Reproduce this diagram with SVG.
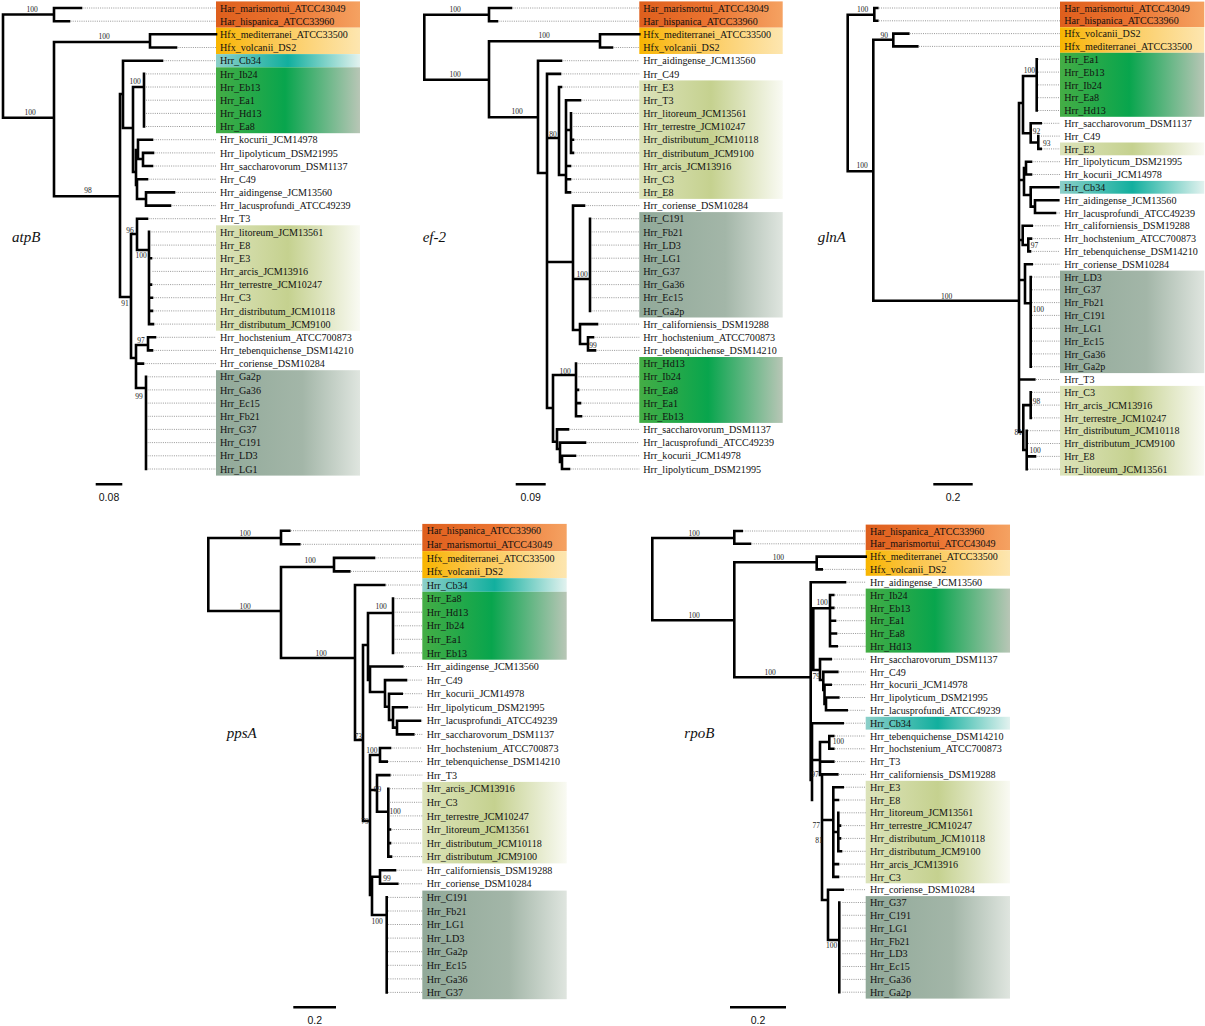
<svg xmlns="http://www.w3.org/2000/svg" width="1205" height="1026" viewBox="0 0 1205 1026">
<style>
.b{fill:none;stroke:#000;stroke-width:2.6;stroke-linecap:square}
.d{fill:none;stroke:#8c8c8c;stroke-width:0.9;stroke-dasharray:1 1.2}
.l{font-family:"Liberation Serif","Times New Roman",serif;font-size:10.1px;fill:#111}
.s{font-family:"Liberation Serif","Times New Roman",serif;font-size:7.5px;fill:#222;text-anchor:middle}
.g{font-family:"Liberation Serif","Times New Roman",serif;font-style:italic;font-size:15px;fill:#111}
.k{font-family:"Liberation Sans",Arial,sans-serif;font-size:10.5px;fill:#111;text-anchor:middle}
.sb{fill:none;stroke:#000;stroke-width:2.6}
</style>
<defs>
<linearGradient id="gO"><stop offset="0" stop-color="#de5f1d"/><stop offset="0.5" stop-color="#eb7431"/><stop offset="1" stop-color="#f5a262"/></linearGradient>
<linearGradient id="gY"><stop offset="0" stop-color="#f8b500"/><stop offset="0.35" stop-color="#fbc54c"/><stop offset="1" stop-color="#fde6b0"/></linearGradient>
<linearGradient id="gT"><stop offset="0" stop-color="#8ccfc9"/><stop offset="0.5" stop-color="#12af9e"/><stop offset="1" stop-color="#e2f2ef"/></linearGradient>
<linearGradient id="gG"><stop offset="0" stop-color="#45ad45"/><stop offset="0.48" stop-color="#08a54d"/><stop offset="1" stop-color="#b8c6b6"/></linearGradient>
<linearGradient id="gL"><stop offset="0" stop-color="#dce3ba"/><stop offset="0.5" stop-color="#c5d18f"/><stop offset="1" stop-color="#f9faf3"/></linearGradient>
<linearGradient id="gS"><stop offset="0" stop-color="#91a999"/><stop offset="0.6" stop-color="#a3b6a8"/><stop offset="1" stop-color="#dfe5df"/></linearGradient>
</defs>
<rect width="1205" height="1026" fill="#fff"/>

<g id="highlights">
<rect x="216" y="1.4" width="144" height="26.3" fill="url(#gO)"/>
<rect x="216" y="27.7" width="144" height="26.3" fill="url(#gY)"/>
<rect x="216" y="54.1" width="144" height="13.2" fill="url(#gT)"/>
<rect x="216" y="67.3" width="144" height="65.9" fill="url(#gG)"/>
<rect x="216" y="225.3" width="144" height="105.4" fill="url(#gL)"/>
<rect x="216" y="370.2" width="144" height="105.4" fill="url(#gS)"/>
<rect x="639.3" y="1.4" width="143.4" height="26.3" fill="url(#gO)"/>
<rect x="639.3" y="27.7" width="143.4" height="26.3" fill="url(#gY)"/>
<rect x="639.3" y="80.4" width="143.4" height="118.5" fill="url(#gL)"/>
<rect x="639.3" y="212.1" width="143.4" height="105.4" fill="url(#gS)"/>
<rect x="639.3" y="357" width="143.4" height="65.9" fill="url(#gG)"/>
<rect x="1060" y="1.6" width="144.3" height="25.6" fill="url(#gO)"/>
<rect x="1060" y="27.2" width="144.3" height="25.6" fill="url(#gY)"/>
<rect x="1060" y="52.8" width="144.3" height="64" fill="url(#gG)"/>
<rect x="1060" y="142.5" width="144.3" height="12.8" fill="url(#gL)"/>
<rect x="1060" y="180.9" width="144.3" height="12.8" fill="url(#gT)"/>
<rect x="1060" y="270.6" width="144.3" height="102.5" fill="url(#gS)"/>
<rect x="1060" y="385.9" width="144.3" height="89.7" fill="url(#gL)"/>
<rect x="422.3" y="523.9" width="144.4" height="27.2" fill="url(#gO)"/>
<rect x="422.3" y="551.1" width="144.4" height="27.2" fill="url(#gY)"/>
<rect x="422.3" y="578.2" width="144.4" height="13.6" fill="url(#gT)"/>
<rect x="422.3" y="591.8" width="144.4" height="67.9" fill="url(#gG)"/>
<rect x="422.3" y="781.9" width="144.4" height="81.5" fill="url(#gL)"/>
<rect x="422.3" y="890.6" width="144.4" height="108.6" fill="url(#gS)"/>
<rect x="865.7" y="524.6" width="144.3" height="25.6" fill="url(#gO)"/>
<rect x="865.7" y="550.2" width="144.3" height="25.6" fill="url(#gY)"/>
<rect x="865.7" y="588.6" width="144.3" height="64" fill="url(#gG)"/>
<rect x="865.7" y="716.8" width="144.3" height="12.8" fill="url(#gT)"/>
<rect x="865.7" y="780.8" width="144.3" height="102.5" fill="url(#gL)"/>
<rect x="865.7" y="896.1" width="144.3" height="102.5" fill="url(#gS)"/>
</g>

<g id="connectors">
<path id="atpB-branches" class="b" d="M3 14.5V117.8M3 14.5H54M54 8V21.2M54 8H81M54 21.2H69M3 117.8H54M54 42V196.3M54 42H150M150 34.3V47.5M150 34.3H216M150 47.5H176M54 196.3H120M120 94V297M120 94H123M123 60.7V128M123 60.7H162M123 128H133M133 87V172M133 87H144M144 73.9V126.5M133 172H136M136 150V185M136 150H138M138 139.7V159M138 139.7H152M138 159H143M143 152.9V166M143 152.9H153M143 166H152M136 185H137M137 179.2V199M137 179.2H147M137 199H146M146 192.4V205.6M146 192.4H174M146 205.6H170M120 297H131M131 234V358M131 234H137M137 218.7V250M137 218.7H147M137 250H149M149 231.9V324.1M149 258.2H151M149 284.6H151M149 297.7H152M149 310.9H152M149 324.1H153M131 358H136M136 345V388M136 345H148M148 337.3V350.4M148 337.3H155M148 350.4H152M136 363.6H143M136 388H146M146 376.8V469"/>
<path id="ef2-branches" class="b" d="M424.3 14.7V79.7M424.3 14.7H489M489 8V21.2M489 8H511M489 21.2H497M424.3 79.7H489M489 41.3V117.3M489 41.3H600M600 34.3V47.5M600 34.3H639.3M600 47.5H612M489 117.3H538M538 60.7V173M538 60.7H561M538 173H547M547 73.9V408M547 73.9H560M547 138H559M559 87V175M559 87H561M559 175H566M566 100.2V192.4M566 100.2H580M566 130H571M571 113.4V152.9M571 139.7H573M571 152.9H573M566 166H570M566 179.2H570M566 192.4H570M547 262H573M573 205.6V330M573 205.6H584M573 279H590M590 218.7V310.9M573 330H580M580 324.1V344M580 324.1H597M580 344H588M588 337.3V350.4M588 337.3H593M588 350.4H595M547 408H553M553 375V441.7M553 375H576M576 363.6V416.3M576 389.9H578M576 403.1H580M576 416.3H581M553 441.7H557M557 429.4V449M557 429.4H568M557 449H560M560 442.6V462M560 442.6H585M560 462H562M562 455.8V469M562 455.8H575M562 469H569"/>
<path id="glnA-branches" class="b" d="M847.7 14.7V171.3M847.7 14.7H874.3M874.3 8V20.8M874.3 8H877.3M874.3 20.8H877.3M847.7 171.3H873.3M873.3 39.7V300.7M873.3 39.7H893.3M893.3 33.6V46.4M893.3 33.6H908.3M893.3 46.4H917.3M873.3 300.7H1019M1019 103V432M1019 103H1023M1023 76V133.3M1023 76H1036.7M1036.7 59.2V110.5M1023 133.3H1030.7M1030.7 123.3V142.5M1030.7 123.3H1040.7M1030.7 142.5H1038.3M1038.3 136.1V148.9M1038.3 148.9H1040.7M1019 180H1024M1024 168V195M1024 168H1026M1026 161.7V174.5M1026 161.7H1031M1026 174.5H1031M1024 195H1030.7M1030.7 187.3V206.6M1030.7 187.3H1058.3M1030.7 206.6H1035M1035 200.2V213M1035 200.2H1058.3M1035 213H1055M1019 240H1022.7M1022.7 225.8V245M1022.7 225.8H1031.7M1022.7 245H1028.3M1028.3 238.6V251.4M1028.3 238.6H1031M1028.3 251.4H1030M1019 280H1025M1025 264.2V303.3M1025 264.2H1031.7M1025 303.3H1030.7M1030.7 277V366.7M1019 379.5H1034.3M1019 432H1023.3M1023.3 405.1V450M1023.3 405.1H1030.7M1030.7 392.3V417.9M1023.3 450H1026.7M1026.7 430.7V469.2M1026.7 456.4H1035"/>
<path id="ppsA-branches" class="b" d="M208.3 538V611M208.3 538H281M281 530.7V544.3M281 530.7H289.3M281 544.3H299.3M208.3 611H281M281 567V658M281 567H334M334 557.9V571.4M334 557.9H374M334 571.4H349.3M281 658H355M355 585V740M355 585H384.3M355 740H363M363 645V821M363 645H368M368 613V680M368 613H393M393 598.6V652.9M368 680H370M370 666.5V692M370 666.5H402.3M370 692H385M385 680.1V706.7M385 680.1H406M385 706.7H389M389 693.7V720M389 693.7H401.7M389 720H393M393 707.2V727.6M393 707.2H406.7M393 727.6H397M397 720.8V734.4M397 720.8H420M397 734.4H413.3M363 821H370M370 755V895M370 755H380M380 748V761.6M380 748H390M380 761.6H386.7M370 790H377M377 775.1V811.7M377 775.1H389.3M377 811.7H388.3M388.3 788.7V856.6M388.3 829.5H390M388.3 843.1H390M388.3 856.6H391M370 895H372M372 876.7V915M372 876.7H380M380 870.2V883.8M380 870.2H395M380 883.8H397.3M372 915H386.7M386.7 897.4V992.4"/>
<path id="rpoB-branches" class="b" d="M652.3 538V620.3M652.3 538H734.3M734.3 531V543.8M734.3 531H741.7M734.3 543.8H750M652.3 620.3H734.3M734.3 562.3V677.3M734.3 562.3H816.7M816.7 556.6V569.4M816.7 556.6H865.7M816.7 569.4H821.7M734.3 677.3H810.7M810.7 582.2V780M810.7 582.2H845M810.7 640H813.3M813.3 608.3V670M813.3 608.3H830M830 595V646.3M830 595H833.3M830 607.9H833.3M830 620.7H835M830 633.5H836M830 646.3H836.7M813.3 670H820M820 659.1V680M820 659.1H830.7M820 680H823.3M823.3 671.9V690M823.3 671.9H837.3M823.3 690H824.5M824.5 684.7V704M824.5 684.7H830.7M824.5 704H826M826 697.5V710.3M826 697.5H838.3M826 710.3H846.7M810.7 780H812M812 723.2V800M812 723.2H842.7M812 760H820M820 742V775M820 742H829.3M829.3 736V748.8M829.3 736H833.3M829.3 748.8H833.3M820 761.6H833.3M820 775H822M822 774.4V900M822 774.4H837.3M822 820H833.3M833.3 787.2V876.9M833.3 787.2H842.7M833.3 800H838M833.3 832H838.3M838.3 812.8V851.3M838.3 825.6H840M838.3 838.4H840M838.3 851.3H841M833.3 864.1H838M833.3 876.9H838M822 900H828M828 889.7V940M828 889.7H842.7M828 940H839.3M839.3 902.5V992.2"/>
</g>

<g id="support-values">
<text class="s" x="32" y="11.7">100</text><text class="s" x="30" y="115">100</text><text class="s" x="104" y="39">100</text><text class="s" x="88" y="193.3">98</text><text class="s" x="135" y="84">100</text><text class="s" x="130" y="232.5">96</text><text class="s" x="141" y="258">100</text><text class="s" x="125" y="306">91</text><text class="s" x="141" y="342.7">97</text><text class="s" x="139" y="398.5">99</text>
<text class="s" x="455" y="11.7">100</text><text class="s" x="455" y="76.7">100</text><text class="s" x="544" y="38.3">100</text><text class="s" x="517" y="114.3">100</text><text class="s" x="553" y="136.5">80</text><text class="s" x="582" y="276.5">100</text><text class="s" x="593" y="347.5">99</text><text class="s" x="565" y="374">100</text>
<text class="s" x="862.7" y="12">100</text><text class="s" x="862" y="168">100</text><text class="s" x="884.3" y="37.5">90</text><text class="s" x="946.7" y="298.5">100</text><text class="s" x="1029.3" y="72.5">100</text><text class="s" x="1036.5" y="134.3">92</text><text class="s" x="1046.7" y="145.7">93</text><text class="s" x="1034.5" y="247.5">97</text><text class="s" x="1038.3" y="312.3">100</text><text class="s" x="1036.5" y="404.2">98</text><text class="s" x="1018.3" y="435">81</text><text class="s" x="1035" y="453.3">100</text>
<text class="s" x="245" y="535.5">100</text><text class="s" x="245" y="608.5">100</text><text class="s" x="310" y="562.5">100</text><text class="s" x="321" y="656">100</text><text class="s" x="381" y="609">100</text><text class="s" x="358.3" y="739.3">73</text><text class="s" x="371.8" y="753">100</text><text class="s" x="377.5" y="791.5">99</text><text class="s" x="395.2" y="814">100</text><text class="s" x="365" y="824.3">79</text><text class="s" x="387" y="880.7">99</text><text class="s" x="377" y="924">100</text>
<text class="s" x="694" y="535.5">100</text><text class="s" x="694" y="618">100</text><text class="s" x="778.3" y="560">100</text><text class="s" x="770" y="675">100</text><text class="s" x="822" y="605">100</text><text class="s" x="816.3" y="679.2">79</text><text class="s" x="838.3" y="744">100</text><text class="s" x="815" y="777.3">97</text><text class="s" x="816.3" y="827.5">77</text><text class="s" x="819" y="842.5">81</text><text class="s" x="831.7" y="947.5">100</text>
</g>

<g id="gene-labels">
<text class="g" x="12" y="241.5">atpB</text>
<text class="g" x="422.7" y="241.5">ef-2</text>
<text class="g" x="817.7" y="241.5">glnA</text>
<text class="g" x="226.7" y="738">ppsA</text>
<text class="g" x="684.3" y="738">rpoB</text>
</g>

<g id="scale-bars">
<path class="sb" d="M95.7 484.3H122.3M515.7 484.3H545.7M933.3 484.3H972.7M293.3 1007.3H336M730 1007.3H786"/>
<text class="k" x="109" y="500.5">0.08</text>
<text class="k" x="530.7" y="500.5">0.09</text>
<text class="k" x="953" y="500.5">0.2</text>
<text class="k" x="314.7" y="1023.5">0.2</text>
<text class="k" x="758" y="1023.5">0.2</text>
</g>

<g id="atpB-leaves">
<g id="atpB-Har_marismortui"><path class="d" d="M82.5 8H216"/><text class="l" x="220" y="11.6">Har_marismortui_ATCC43049</text></g>
<g id="atpB-Har_hispanica"><path class="d" d="M70.5 21.2H216"/><text class="l" x="220" y="24.8">Har_hispanica_ATCC33960</text></g>
<g id="atpB-Hfx_mediterranei"><text class="l" x="220" y="37.9">Hfx_mediterranei_ATCC33500</text></g>
<g id="atpB-Hfx_volcanii"><path class="d" d="M177.5 47.5H216"/><text class="l" x="220" y="51.1">Hfx_volcanii_DS2</text></g>
<g id="atpB-Cb34"><path class="d" d="M163.5 60.7H216"/><text class="l" x="220" y="64.3">Hrr_Cb34</text></g>
<g id="atpB-Ib24"><path class="d" d="M146 73.9H216"/><text class="l" x="220" y="77.5">Hrr_Ib24</text></g>
<g id="atpB-Eb13"><path class="d" d="M146 87H216"/><text class="l" x="220" y="90.6">Hrr_Eb13</text></g>
<g id="atpB-Ea1"><path class="d" d="M146 100.2H216"/><text class="l" x="220" y="103.8">Hrr_Ea1</text></g>
<g id="atpB-Hd13"><path class="d" d="M146 113.4H216"/><text class="l" x="220" y="117">Hrr_Hd13</text></g>
<g id="atpB-Ea8"><path class="d" d="M146 126.5H216"/><text class="l" x="220" y="130.1">Hrr_Ea8</text></g>
<g id="atpB-kocurii"><path class="d" d="M153.5 139.7H216"/><text class="l" x="220" y="143.3">Hrr_kocurii_JCM14978</text></g>
<g id="atpB-lipolyticum"><path class="d" d="M154.5 152.9H216"/><text class="l" x="220" y="156.5">Hrr_lipolyticum_DSM21995</text></g>
<g id="atpB-saccharovorum"><path class="d" d="M153.5 166H216"/><text class="l" x="220" y="169.6">Hrr_saccharovorum_DSM1137</text></g>
<g id="atpB-C49"><path class="d" d="M148.5 179.2H216"/><text class="l" x="220" y="182.8">Hrr_C49</text></g>
<g id="atpB-aidingense"><path class="d" d="M175.5 192.4H216"/><text class="l" x="220" y="196">Hrr_aidingense_JCM13560</text></g>
<g id="atpB-lacusprofundi"><path class="d" d="M171.5 205.6H216"/><text class="l" x="220" y="209.2">Hrr_lacusprofundi_ATCC49239</text></g>
<g id="atpB-T3"><path class="d" d="M148.5 218.7H216"/><text class="l" x="220" y="222.3">Hrr_T3</text></g>
<g id="atpB-litoreum"><path class="d" d="M151.5 231.9H216"/><text class="l" x="220" y="235.5">Hrr_litoreum_JCM13561</text></g>
<g id="atpB-E8"><path class="d" d="M151.5 245.1H216"/><text class="l" x="220" y="248.7">Hrr_E8</text></g>
<g id="atpB-E3"><path class="d" d="M152.5 258.2H216"/><text class="l" x="220" y="261.8">Hrr_E3</text></g>
<g id="atpB-arcis"><path class="d" d="M152.5 271.4H216"/><text class="l" x="220" y="275">Hrr_arcis_JCM13916</text></g>
<g id="atpB-terrestre"><path class="d" d="M152.5 284.6H216"/><text class="l" x="220" y="288.2">Hrr_terrestre_JCM10247</text></g>
<g id="atpB-C3"><path class="d" d="M153.5 297.7H216"/><text class="l" x="220" y="301.3">Hrr_C3</text></g>
<g id="atpB-distributum10118"><path class="d" d="M153.5 310.9H216"/><text class="l" x="220" y="314.5">Hrr_distributum_JCM10118</text></g>
<g id="atpB-distributum9100"><path class="d" d="M154.5 324.1H216"/><text class="l" x="220" y="327.7">Hrr_distributum_JCM9100</text></g>
<g id="atpB-hochstenium"><path class="d" d="M156.5 337.3H216"/><text class="l" x="220" y="340.9">Hrr_hochstenium_ATCC700873</text></g>
<g id="atpB-tebenquichense"><path class="d" d="M153.5 350.4H216"/><text class="l" x="220" y="354">Hrr_tebenquichense_DSM14210</text></g>
<g id="atpB-coriense"><path class="d" d="M144.5 363.6H216"/><text class="l" x="220" y="367.2">Hrr_coriense_DSM10284</text></g>
<g id="atpB-Ga2p"><path class="d" d="M147.5 376.8H216"/><text class="l" x="220" y="380.4">Hrr_Ga2p</text></g>
<g id="atpB-Ga36"><path class="d" d="M147.5 389.9H216"/><text class="l" x="220" y="393.5">Hrr_Ga36</text></g>
<g id="atpB-Ec15"><path class="d" d="M147.5 403.1H216"/><text class="l" x="220" y="406.7">Hrr_Ec15</text></g>
<g id="atpB-Fb21"><path class="d" d="M147.5 416.3H216"/><text class="l" x="220" y="419.9">Hrr_Fb21</text></g>
<g id="atpB-G37"><path class="d" d="M147.5 429.4H216"/><text class="l" x="220" y="433">Hrr_G37</text></g>
<g id="atpB-C191"><path class="d" d="M147.5 442.6H216"/><text class="l" x="220" y="446.2">Hrr_C191</text></g>
<g id="atpB-LD3"><path class="d" d="M147.5 455.8H216"/><text class="l" x="220" y="459.4">Hrr_LD3</text></g>
<g id="atpB-LG1"><path class="d" d="M147.5 469H216"/><text class="l" x="220" y="472.6">Hrr_LG1</text></g>
</g>

<g id="ef2-leaves">
<g id="ef2-Har_marismortui"><path class="d" d="M512.5 8H639.3"/><text class="l" x="643.3" y="11.6">Har_marismortui_ATCC43049</text></g>
<g id="ef2-Har_hispanica"><path class="d" d="M498.5 21.2H639.3"/><text class="l" x="643.3" y="24.8">Har_hispanica_ATCC33960</text></g>
<g id="ef2-Hfx_mediterranei"><text class="l" x="643.3" y="37.9">Hfx_mediterranei_ATCC33500</text></g>
<g id="ef2-Hfx_volcanii"><path class="d" d="M613.5 47.5H639.3"/><text class="l" x="643.3" y="51.1">Hfx_volcanii_DS2</text></g>
<g id="ef2-aidingense"><path class="d" d="M562.5 60.7H639.3"/><text class="l" x="643.3" y="64.3">Hrr_aidingense_JCM13560</text></g>
<g id="ef2-C49"><path class="d" d="M561.5 73.9H639.3"/><text class="l" x="643.3" y="77.5">Hrr_C49</text></g>
<g id="ef2-E3"><path class="d" d="M562.5 87H639.3"/><text class="l" x="643.3" y="90.6">Hrr_E3</text></g>
<g id="ef2-T3"><path class="d" d="M581.5 100.2H639.3"/><text class="l" x="643.3" y="103.8">Hrr_T3</text></g>
<g id="ef2-litoreum"><path class="d" d="M573.5 113.4H639.3"/><text class="l" x="643.3" y="117">Hrr_litoreum_JCM13561</text></g>
<g id="ef2-terrestre"><path class="d" d="M573.5 126.5H639.3"/><text class="l" x="643.3" y="130.1">Hrr_terrestre_JCM10247</text></g>
<g id="ef2-distributum10118"><path class="d" d="M574.5 139.7H639.3"/><text class="l" x="643.3" y="143.3">Hrr_distributum_JCM10118</text></g>
<g id="ef2-distributum9100"><path class="d" d="M574.5 152.9H639.3"/><text class="l" x="643.3" y="156.5">Hrr_distributum_JCM9100</text></g>
<g id="ef2-arcis"><path class="d" d="M571.5 166H639.3"/><text class="l" x="643.3" y="169.6">Hrr_arcis_JCM13916</text></g>
<g id="ef2-C3"><path class="d" d="M571.5 179.2H639.3"/><text class="l" x="643.3" y="182.8">Hrr_C3</text></g>
<g id="ef2-E8"><path class="d" d="M571.5 192.4H639.3"/><text class="l" x="643.3" y="196">Hrr_E8</text></g>
<g id="ef2-coriense"><path class="d" d="M585.5 205.6H639.3"/><text class="l" x="643.3" y="209.2">Hrr_coriense_DSM10284</text></g>
<g id="ef2-C191"><path class="d" d="M591.5 218.7H639.3"/><text class="l" x="643.3" y="222.3">Hrr_C191</text></g>
<g id="ef2-Fb21"><path class="d" d="M591.5 231.9H639.3"/><text class="l" x="643.3" y="235.5">Hrr_Fb21</text></g>
<g id="ef2-LD3"><path class="d" d="M591.5 245.1H639.3"/><text class="l" x="643.3" y="248.7">Hrr_LD3</text></g>
<g id="ef2-LG1"><path class="d" d="M591.5 258.2H639.3"/><text class="l" x="643.3" y="261.8">Hrr_LG1</text></g>
<g id="ef2-G37"><path class="d" d="M591.5 271.4H639.3"/><text class="l" x="643.3" y="275">Hrr_G37</text></g>
<g id="ef2-Ga36"><path class="d" d="M591.5 284.6H639.3"/><text class="l" x="643.3" y="288.2">Hrr_Ga36</text></g>
<g id="ef2-Ec15"><path class="d" d="M591.5 297.7H639.3"/><text class="l" x="643.3" y="301.3">Hrr_Ec15</text></g>
<g id="ef2-Ga2p"><path class="d" d="M591.5 310.9H639.3"/><text class="l" x="643.3" y="314.5">Hrr_Ga2p</text></g>
<g id="ef2-californiensis"><path class="d" d="M598.5 324.1H639.3"/><text class="l" x="643.3" y="327.7">Hrr_californiensis_DSM19288</text></g>
<g id="ef2-hochstenium"><path class="d" d="M594.5 337.3H639.3"/><text class="l" x="643.3" y="340.9">Hrr_hochstenium_ATCC700873</text></g>
<g id="ef2-tebenquichense"><path class="d" d="M596.5 350.4H639.3"/><text class="l" x="643.3" y="354">Hrr_tebenquichense_DSM14210</text></g>
<g id="ef2-Hd13"><path class="d" d="M577.5 363.6H639.3"/><text class="l" x="643.3" y="367.2">Hrr_Hd13</text></g>
<g id="ef2-Ib24"><path class="d" d="M578.5 376.8H639.3"/><text class="l" x="643.3" y="380.4">Hrr_Ib24</text></g>
<g id="ef2-Ea8"><path class="d" d="M579.5 389.9H639.3"/><text class="l" x="643.3" y="393.5">Hrr_Ea8</text></g>
<g id="ef2-Ea1"><path class="d" d="M581.5 403.1H639.3"/><text class="l" x="643.3" y="406.7">Hrr_Ea1</text></g>
<g id="ef2-Eb13"><path class="d" d="M582.5 416.3H639.3"/><text class="l" x="643.3" y="419.9">Hrr_Eb13</text></g>
<g id="ef2-saccharovorum"><path class="d" d="M569.5 429.4H639.3"/><text class="l" x="643.3" y="433">Hrr_saccharovorum_DSM1137</text></g>
<g id="ef2-lacusprofundi"><path class="d" d="M586.5 442.6H639.3"/><text class="l" x="643.3" y="446.2">Hrr_lacusprofundi_ATCC49239</text></g>
<g id="ef2-kocurii"><path class="d" d="M576.5 455.8H639.3"/><text class="l" x="643.3" y="459.4">Hrr_kocurii_JCM14978</text></g>
<g id="ef2-lipolyticum"><path class="d" d="M570.5 469H639.3"/><text class="l" x="643.3" y="472.6">Hrr_lipolyticum_DSM21995</text></g>
</g>

<g id="glnA-leaves">
<g id="glnA-Har_marismortui"><path class="d" d="M878.8 8H1060"/><text class="l" x="1064.3" y="11.6">Har_marismortui_ATCC43049</text></g>
<g id="glnA-Har_hispanica"><path class="d" d="M878.8 20.8H1060"/><text class="l" x="1064.3" y="24.4">Har_hispanica_ATCC33960</text></g>
<g id="glnA-Hfx_volcanii"><path class="d" d="M909.8 33.6H1060"/><text class="l" x="1064.3" y="37.2">Hfx_volcanii_DS2</text></g>
<g id="glnA-Hfx_mediterranei"><path class="d" d="M918.8 46.4H1060"/><text class="l" x="1064.3" y="50">Hfx_mediterranei_ATCC33500</text></g>
<g id="glnA-Ea1"><path class="d" d="M1038.2 59.2H1060"/><text class="l" x="1064.3" y="62.8">Hrr_Ea1</text></g>
<g id="glnA-Eb13"><path class="d" d="M1038.2 72.1H1060"/><text class="l" x="1064.3" y="75.7">Hrr_Eb13</text></g>
<g id="glnA-Ib24"><path class="d" d="M1038.2 84.9H1060"/><text class="l" x="1064.3" y="88.5">Hrr_Ib24</text></g>
<g id="glnA-Ea8"><path class="d" d="M1038.2 97.7H1060"/><text class="l" x="1064.3" y="101.3">Hrr_Ea8</text></g>
<g id="glnA-Hd13"><path class="d" d="M1038.2 110.5H1060"/><text class="l" x="1064.3" y="114.1">Hrr_Hd13</text></g>
<g id="glnA-saccharovorum"><path class="d" d="M1042.2 123.3H1060"/><text class="l" x="1064.3" y="126.9">Hrr_saccharovorum_DSM1137</text></g>
<g id="glnA-C49"><path class="d" d="M1041 136.1H1060"/><text class="l" x="1064.3" y="139.7">Hrr_C49</text></g>
<g id="glnA-E3"><path class="d" d="M1042.2 148.9H1060"/><text class="l" x="1064.3" y="152.5">Hrr_E3</text></g>
<g id="glnA-lipolyticum"><path class="d" d="M1032.5 161.7H1060"/><text class="l" x="1064.3" y="165.3">Hrr_lipolyticum_DSM21995</text></g>
<g id="glnA-kocurii"><path class="d" d="M1032.5 174.5H1060"/><text class="l" x="1064.3" y="178.1">Hrr_kocurii_JCM14978</text></g>
<g id="glnA-Cb34"><text class="l" x="1064.3" y="190.9">Hrr_Cb34</text></g>
<g id="glnA-aidingense"><text class="l" x="1064.3" y="203.8">Hrr_aidingense_JCM13560</text></g>
<g id="glnA-lacusprofundi"><path class="d" d="M1056.5 213H1060"/><text class="l" x="1064.3" y="216.6">Hrr_lacusprofundi_ATCC49239</text></g>
<g id="glnA-californiensis"><path class="d" d="M1033.2 225.8H1060"/><text class="l" x="1064.3" y="229.4">Hrr_californiensis_DSM19288</text></g>
<g id="glnA-hochstenium"><path class="d" d="M1032.5 238.6H1060"/><text class="l" x="1064.3" y="242.2">Hrr_hochstenium_ATCC700873</text></g>
<g id="glnA-tebenquichense"><path class="d" d="M1031.5 251.4H1060"/><text class="l" x="1064.3" y="255">Hrr_tebenquichense_DSM14210</text></g>
<g id="glnA-coriense"><path class="d" d="M1033.2 264.2H1060"/><text class="l" x="1064.3" y="267.8">Hrr_coriense_DSM10284</text></g>
<g id="glnA-LD3"><path class="d" d="M1032 277H1060"/><text class="l" x="1064.3" y="280.6">Hrr_LD3</text></g>
<g id="glnA-G37"><path class="d" d="M1032 289.8H1060"/><text class="l" x="1064.3" y="293.4">Hrr_G37</text></g>
<g id="glnA-Fb21"><path class="d" d="M1032 302.6H1060"/><text class="l" x="1064.3" y="306.2">Hrr_Fb21</text></g>
<g id="glnA-C191"><path class="d" d="M1032 315.4H1060"/><text class="l" x="1064.3" y="319">Hrr_C191</text></g>
<g id="glnA-LG1"><path class="d" d="M1032 328.3H1060"/><text class="l" x="1064.3" y="331.9">Hrr_LG1</text></g>
<g id="glnA-Ec15"><path class="d" d="M1032 341.1H1060"/><text class="l" x="1064.3" y="344.7">Hrr_Ec15</text></g>
<g id="glnA-Ga36"><path class="d" d="M1032 353.9H1060"/><text class="l" x="1064.3" y="357.5">Hrr_Ga36</text></g>
<g id="glnA-Ga2p"><path class="d" d="M1032 366.7H1060"/><text class="l" x="1064.3" y="370.3">Hrr_Ga2p</text></g>
<g id="glnA-T3"><path class="d" d="M1035.8 379.5H1060"/><text class="l" x="1064.3" y="383.1">Hrr_T3</text></g>
<g id="glnA-C3"><path class="d" d="M1032 392.3H1060"/><text class="l" x="1064.3" y="395.9">Hrr_C3</text></g>
<g id="glnA-arcis"><path class="d" d="M1032 405.1H1060"/><text class="l" x="1064.3" y="408.7">Hrr_arcis_JCM13916</text></g>
<g id="glnA-terrestre"><path class="d" d="M1032 417.9H1060"/><text class="l" x="1064.3" y="421.5">Hrr_terrestre_JCM10247</text></g>
<g id="glnA-distributum10118"><path class="d" d="M1028 430.7H1060"/><text class="l" x="1064.3" y="434.3">Hrr_distributum_JCM10118</text></g>
<g id="glnA-distributum9100"><path class="d" d="M1028 443.5H1060"/><text class="l" x="1064.3" y="447.1">Hrr_distributum_JCM9100</text></g>
<g id="glnA-E8"><path class="d" d="M1036.5 456.4H1060"/><text class="l" x="1064.3" y="460">Hrr_E8</text></g>
<g id="glnA-litoreum"><path class="d" d="M1028 469.2H1060"/><text class="l" x="1064.3" y="472.8">Hrr_litoreum_JCM13561</text></g>
</g>

<g id="ppsA-leaves">
<g id="ppsA-Har_hispanica"><path class="d" d="M290.8 530.7H422.3"/><text class="l" x="426.7" y="534.3">Har_hispanica_ATCC33960</text></g>
<g id="ppsA-Har_marismortui"><path class="d" d="M300.8 544.3H422.3"/><text class="l" x="426.7" y="547.9">Har_marismortui_ATCC43049</text></g>
<g id="ppsA-Hfx_mediterranei"><path class="d" d="M375.5 557.9H422.3"/><text class="l" x="426.7" y="561.5">Hfx_mediterranei_ATCC33500</text></g>
<g id="ppsA-Hfx_volcanii"><path class="d" d="M350.8 571.4H422.3"/><text class="l" x="426.7" y="575">Hfx_volcanii_DS2</text></g>
<g id="ppsA-Cb34"><path class="d" d="M385.8 585H422.3"/><text class="l" x="426.7" y="588.6">Hrr_Cb34</text></g>
<g id="ppsA-Ea8"><path class="d" d="M394.5 598.6H422.3"/><text class="l" x="426.7" y="602.2">Hrr_Ea8</text></g>
<g id="ppsA-Hd13"><path class="d" d="M394.5 612.2H422.3"/><text class="l" x="426.7" y="615.8">Hrr_Hd13</text></g>
<g id="ppsA-Ib24"><path class="d" d="M394.5 625.8H422.3"/><text class="l" x="426.7" y="629.4">Hrr_Ib24</text></g>
<g id="ppsA-Ea1"><path class="d" d="M394.5 639.3H422.3"/><text class="l" x="426.7" y="642.9">Hrr_Ea1</text></g>
<g id="ppsA-Eb13"><path class="d" d="M394.5 652.9H422.3"/><text class="l" x="426.7" y="656.5">Hrr_Eb13</text></g>
<g id="ppsA-aidingense"><path class="d" d="M403.8 666.5H422.3"/><text class="l" x="426.7" y="670.1">Hrr_aidingense_JCM13560</text></g>
<g id="ppsA-C49"><path class="d" d="M407.5 680.1H422.3"/><text class="l" x="426.7" y="683.7">Hrr_C49</text></g>
<g id="ppsA-kocurii"><path class="d" d="M403.2 693.7H422.3"/><text class="l" x="426.7" y="697.3">Hrr_kocurii_JCM14978</text></g>
<g id="ppsA-lipolyticum"><path class="d" d="M408.2 707.2H422.3"/><text class="l" x="426.7" y="710.8">Hrr_lipolyticum_DSM21995</text></g>
<g id="ppsA-lacusprofundi"><path class="d" d="M421.5 720.8H422.3"/><text class="l" x="426.7" y="724.4">Hrr_lacusprofundi_ATCC49239</text></g>
<g id="ppsA-saccharovorum"><path class="d" d="M414.8 734.4H422.3"/><text class="l" x="426.7" y="738">Hrr_saccharovorum_DSM1137</text></g>
<g id="ppsA-hochstenium"><path class="d" d="M391.5 748H422.3"/><text class="l" x="426.7" y="751.6">Hrr_hochstenium_ATCC700873</text></g>
<g id="ppsA-tebenquichense"><path class="d" d="M388.2 761.6H422.3"/><text class="l" x="426.7" y="765.2">Hrr_tebenquichense_DSM14210</text></g>
<g id="ppsA-T3"><path class="d" d="M390.8 775.1H422.3"/><text class="l" x="426.7" y="778.7">Hrr_T3</text></g>
<g id="ppsA-arcis"><path class="d" d="M389.8 788.7H422.3"/><text class="l" x="426.7" y="792.3">Hrr_arcis_JCM13916</text></g>
<g id="ppsA-C3"><path class="d" d="M389.8 802.3H422.3"/><text class="l" x="426.7" y="805.9">Hrr_C3</text></g>
<g id="ppsA-terrestre"><path class="d" d="M390.5 815.9H422.3"/><text class="l" x="426.7" y="819.5">Hrr_terrestre_JCM10247</text></g>
<g id="ppsA-litoreum"><path class="d" d="M391.5 829.5H422.3"/><text class="l" x="426.7" y="833.1">Hrr_litoreum_JCM13561</text></g>
<g id="ppsA-distributum10118"><path class="d" d="M391.5 843.1H422.3"/><text class="l" x="426.7" y="846.7">Hrr_distributum_JCM10118</text></g>
<g id="ppsA-distributum9100"><path class="d" d="M392.5 856.6H422.3"/><text class="l" x="426.7" y="860.2">Hrr_distributum_JCM9100</text></g>
<g id="ppsA-californiensis"><path class="d" d="M396.5 870.2H422.3"/><text class="l" x="426.7" y="873.8">Hrr_californiensis_DSM19288</text></g>
<g id="ppsA-coriense"><path class="d" d="M398.8 883.8H422.3"/><text class="l" x="426.7" y="887.4">Hrr_coriense_DSM10284</text></g>
<g id="ppsA-C191"><path class="d" d="M388.2 897.4H422.3"/><text class="l" x="426.7" y="901">Hrr_C191</text></g>
<g id="ppsA-Fb21"><path class="d" d="M388.2 911H422.3"/><text class="l" x="426.7" y="914.6">Hrr_Fb21</text></g>
<g id="ppsA-LG1"><path class="d" d="M388.2 924.5H422.3"/><text class="l" x="426.7" y="928.1">Hrr_LG1</text></g>
<g id="ppsA-LD3"><path class="d" d="M388.2 938.1H422.3"/><text class="l" x="426.7" y="941.7">Hrr_LD3</text></g>
<g id="ppsA-Ga2p"><path class="d" d="M388.2 951.7H422.3"/><text class="l" x="426.7" y="955.3">Hrr_Ga2p</text></g>
<g id="ppsA-Ec15"><path class="d" d="M388.2 965.3H422.3"/><text class="l" x="426.7" y="968.9">Hrr_Ec15</text></g>
<g id="ppsA-Ga36"><path class="d" d="M388.2 978.9H422.3"/><text class="l" x="426.7" y="982.5">Hrr_Ga36</text></g>
<g id="ppsA-G37"><path class="d" d="M388.2 992.4H422.3"/><text class="l" x="426.7" y="996">Hrr_G37</text></g>
</g>

<g id="rpoB-leaves">
<g id="rpoB-Har_hispanica"><path class="d" d="M743.2 531H865.7"/><text class="l" x="870" y="534.6">Har_hispanica_ATCC33960</text></g>
<g id="rpoB-Har_marismortui"><path class="d" d="M751.5 543.8H865.7"/><text class="l" x="870" y="547.4">Har_marismortui_ATCC43049</text></g>
<g id="rpoB-Hfx_mediterranei"><text class="l" x="870" y="560.2">Hfx_mediterranei_ATCC33500</text></g>
<g id="rpoB-Hfx_volcanii"><path class="d" d="M823.2 569.4H865.7"/><text class="l" x="870" y="573">Hfx_volcanii_DS2</text></g>
<g id="rpoB-aidingense"><path class="d" d="M846.5 582.2H865.7"/><text class="l" x="870" y="585.8">Hrr_aidingense_JCM13560</text></g>
<g id="rpoB-Ib24"><path class="d" d="M834.8 595H865.7"/><text class="l" x="870" y="598.6">Hrr_Ib24</text></g>
<g id="rpoB-Eb13"><path class="d" d="M834.8 607.9H865.7"/><text class="l" x="870" y="611.5">Hrr_Eb13</text></g>
<g id="rpoB-Ea1"><path class="d" d="M836.5 620.7H865.7"/><text class="l" x="870" y="624.3">Hrr_Ea1</text></g>
<g id="rpoB-Ea8"><path class="d" d="M837.5 633.5H865.7"/><text class="l" x="870" y="637.1">Hrr_Ea8</text></g>
<g id="rpoB-Hd13"><path class="d" d="M838.2 646.3H865.7"/><text class="l" x="870" y="649.9">Hrr_Hd13</text></g>
<g id="rpoB-saccharovorum"><path class="d" d="M832.2 659.1H865.7"/><text class="l" x="870" y="662.7">Hrr_saccharovorum_DSM1137</text></g>
<g id="rpoB-C49"><path class="d" d="M838.8 671.9H865.7"/><text class="l" x="870" y="675.5">Hrr_C49</text></g>
<g id="rpoB-kocurii"><path class="d" d="M832.2 684.7H865.7"/><text class="l" x="870" y="688.3">Hrr_kocurii_JCM14978</text></g>
<g id="rpoB-lipolyticum"><path class="d" d="M839.8 697.5H865.7"/><text class="l" x="870" y="701.1">Hrr_lipolyticum_DSM21995</text></g>
<g id="rpoB-lacusprofundi"><path class="d" d="M848.2 710.3H865.7"/><text class="l" x="870" y="713.9">Hrr_lacusprofundi_ATCC49239</text></g>
<g id="rpoB-Cb34"><path class="d" d="M844.2 723.2H865.7"/><text class="l" x="870" y="726.8">Hrr_Cb34</text></g>
<g id="rpoB-tebenquichense"><path class="d" d="M834.8 736H865.7"/><text class="l" x="870" y="739.6">Hrr_tebenquichense_DSM14210</text></g>
<g id="rpoB-hochstenium"><path class="d" d="M834.8 748.8H865.7"/><text class="l" x="870" y="752.4">Hrr_hochstenium_ATCC700873</text></g>
<g id="rpoB-T3"><path class="d" d="M834.8 761.6H865.7"/><text class="l" x="870" y="765.2">Hrr_T3</text></g>
<g id="rpoB-californiensis"><path class="d" d="M838.8 774.4H865.7"/><text class="l" x="870" y="778">Hrr_californiensis_DSM19288</text></g>
<g id="rpoB-E3"><path class="d" d="M844.2 787.2H865.7"/><text class="l" x="870" y="790.8">Hrr_E3</text></g>
<g id="rpoB-E8"><path class="d" d="M839.5 800H865.7"/><text class="l" x="870" y="803.6">Hrr_E8</text></g>
<g id="rpoB-litoreum"><path class="d" d="M840.5 812.8H865.7"/><text class="l" x="870" y="816.4">Hrr_litoreum_JCM13561</text></g>
<g id="rpoB-terrestre"><path class="d" d="M841.5 825.6H865.7"/><text class="l" x="870" y="829.2">Hrr_terrestre_JCM10247</text></g>
<g id="rpoB-distributum10118"><path class="d" d="M841.5 838.4H865.7"/><text class="l" x="870" y="842">Hrr_distributum_JCM10118</text></g>
<g id="rpoB-distributum9100"><path class="d" d="M842.5 851.3H865.7"/><text class="l" x="870" y="854.9">Hrr_distributum_JCM9100</text></g>
<g id="rpoB-arcis"><path class="d" d="M839.5 864.1H865.7"/><text class="l" x="870" y="867.7">Hrr_arcis_JCM13916</text></g>
<g id="rpoB-C3"><path class="d" d="M839.5 876.9H865.7"/><text class="l" x="870" y="880.5">Hrr_C3</text></g>
<g id="rpoB-coriense"><path class="d" d="M844.2 889.7H865.7"/><text class="l" x="870" y="893.3">Hrr_coriense_DSM10284</text></g>
<g id="rpoB-G37"><path class="d" d="M842.5 902.5H865.7"/><text class="l" x="870" y="906.1">Hrr_G37</text></g>
<g id="rpoB-C191"><path class="d" d="M842.5 915.3H865.7"/><text class="l" x="870" y="918.9">Hrr_C191</text></g>
<g id="rpoB-LG1"><path class="d" d="M842.5 928.1H865.7"/><text class="l" x="870" y="931.7">Hrr_LG1</text></g>
<g id="rpoB-Fb21"><path class="d" d="M842.5 940.9H865.7"/><text class="l" x="870" y="944.5">Hrr_Fb21</text></g>
<g id="rpoB-LD3"><path class="d" d="M842.5 953.7H865.7"/><text class="l" x="870" y="957.3">Hrr_LD3</text></g>
<g id="rpoB-Ec15"><path class="d" d="M842.5 966.5H865.7"/><text class="l" x="870" y="970.1">Hrr_Ec15</text></g>
<g id="rpoB-Ga36"><path class="d" d="M842.5 979.4H865.7"/><text class="l" x="870" y="983">Hrr_Ga36</text></g>
<g id="rpoB-Ga2p"><path class="d" d="M842.5 992.2H865.7"/><text class="l" x="870" y="995.8">Hrr_Ga2p</text></g>
</g>
</svg>
